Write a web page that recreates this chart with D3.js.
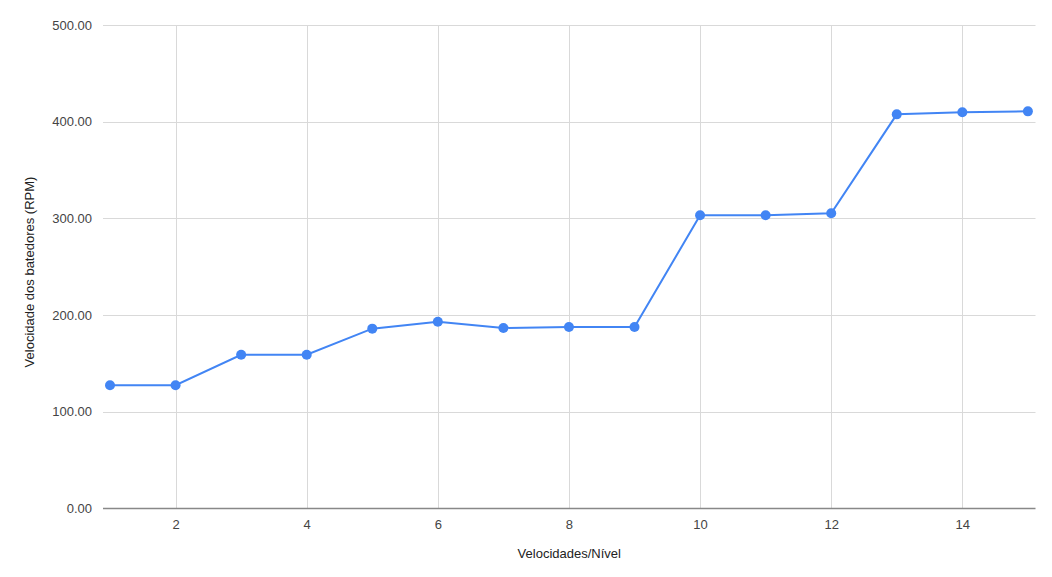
<!DOCTYPE html>
<html>
<head>
  <meta charset="utf-8">
  <style>
    body { margin: 0; background: #fff; }
    svg { background-color: #fff; font-family: "Liberation Sans", Arial, sans-serif; }
    .tick text { font-size: 13px; fill: #444; }
    .axis-title { font-size: 13px; fill: #222; }
  </style>
</head>
<body>
  <div id="chart"></div>
  <script src="https://d3js.org/d3.v7.min.js"></script>
  <script>
    var levels = [1, 2, 3, 4, 5, 6, 7, 8, 9, 10, 11, 12, 13, 14, 15];
    var rpm = [127.5, 127.5, 159, 159, 186, 193.2, 186.7, 187.7, 187.7, 303.2, 303.2, 305.3, 407.6, 409.7, 410.7];
    var xTicks = [2, 4, 6, 8, 10, 12, 14];
    var yTicks = [0, 100, 200, 300, 400, 500];

    var width = 1052,
      height = 577;
    var plotLeft = 103, plotRight = 1035.5, plotTop = 25, plotBottom = 508.5;

    var svg = d3.select("#chart").append("svg")
      .attr("width", width)
      .attr("height", height);

    var x = d3.scaleLinear()
      .domain([0.893, 15.116])
      .range([plotLeft, plotRight]);
    var y = d3.scaleLinear()
      .domain([0, 500])
      .range([plotBottom, plotTop]);

    // gridlines
    svg.append("g")
      .selectAll("line")
      .data(yTicks.filter(function(d) { return d > 0; }))
      .enter().append("line")
      .attr("x1", plotLeft).attr("x2", plotRight)
      .attr("y1", function(d) { return Math.round(y(d)) + 0.5; })
      .attr("y2", function(d) { return Math.round(y(d)) + 0.5; })
      .attr("stroke", "#d9d9d9");

    svg.append("g")
      .selectAll("line")
      .data(xTicks)
      .enter().append("line")
      .attr("x1", function(d) { return Math.round(x(d)) + 0.5; })
      .attr("x2", function(d) { return Math.round(x(d)) + 0.5; })
      .attr("y1", plotTop).attr("y2", plotBottom)
      .attr("stroke", "#d9d9d9");

    // baseline
    svg.append("line")
      .attr("x1", plotLeft).attr("x2", plotRight)
      .attr("y1", plotBottom).attr("y2", plotBottom)
      .attr("stroke", "#888")
      .attr("stroke-width", 1.5);

    // axes (labels only)
    var yAxis = svg.append("g")
      .attr("transform", "translate(" + (plotLeft - 8) + ",0)")
      .call(d3.axisLeft(y).tickValues(yTicks).tickSize(0).tickFormat(d3.format(".2f")));
    yAxis.select(".domain").remove();

    var xAxis = svg.append("g")
      .attr("transform", "translate(0," + (plotBottom + 8) + ")")
      .call(d3.axisBottom(x).tickValues(xTicks).tickSize(0));
    xAxis.select(".domain").remove();

    // line
    var line = d3.line()
      .x(function(d, i) { return x(levels[i]); })
      .y(function(d) { return y(d); });

    svg.append("path")
      .datum(rpm)
      .attr("fill", "none")
      .attr("stroke", "#4285f4")
      .attr("stroke-width", 2)
      .attr("d", line);

    svg.selectAll("circle.pt")
      .data(rpm)
      .enter().append("circle")
      .attr("class", "pt")
      .attr("cx", function(d, i) { return x(levels[i]); })
      .attr("cy", function(d) { return y(d); })
      .attr("r", 5)
      .attr("fill", "#4285f4");

    // titles
    svg.append("text")
      .attr("class", "axis-title")
      .attr("x", (plotLeft + plotRight) / 2)
      .attr("y", 558)
      .attr("text-anchor", "middle")
      .text("Velocidades/Nível");

    svg.append("text")
      .attr("class", "axis-title")
      .attr("transform", "translate(34,272) rotate(-90)")
      .attr("text-anchor", "middle")
      .text("Velocidade dos batedores (RPM)");
  </script>
</body>
</html>
